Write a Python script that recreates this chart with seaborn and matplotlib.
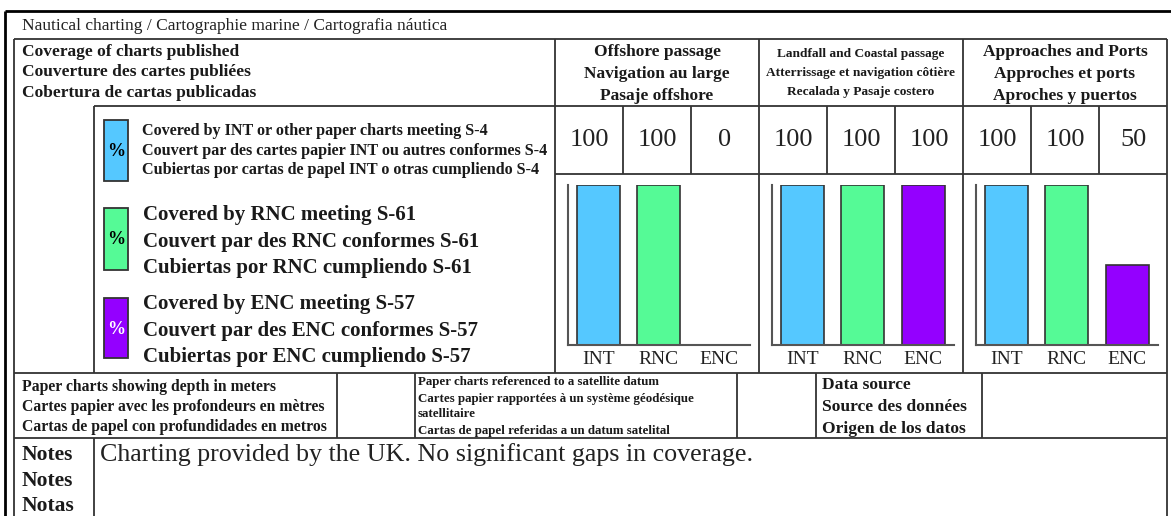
import pandas as pd
import matplotlib.pyplot as plt
import seaborn as sns
from matplotlib.patches import Rectangle

sns.set_style('white')
plt.rcParams['font.family'] = ['Liberation Serif', 'DejaVu Serif']

# data
chart_types = ['INT', 'RNC', 'ENC']
offshore = [100, 100, 0]
landfall = [100, 100, 100]
approaches = [100, 100, 50]
type_colors = ['#55C8FF', '#55FA96', '#9400FF']

title = 'Nautical charting / Cartographie marine / Cartografia náutica'
coverage_head = ['Coverage of charts published', 'Couverture des cartes publiées',
                 'Cobertura de cartas publicadas']
offshore_head = ['Offshore passage', 'Navigation au large', 'Pasaje offshore']
landfall_head = ['Landfall and Coastal passage', 'Atterrissage et navigation côtière',
                 'Recalada y Pasaje costero']
approach_head = ['Approaches and Ports', 'Approches et ports', 'Aproches y puertos']
legend_int = ['Covered by INT or other paper charts meeting S-4',
              'Couvert par des cartes papier INT ou autres conformes S-4',
              'Cubiertas por cartas de papel INT o otras cumpliendo S-4']
legend_rnc = ['Covered by RNC meeting S-61', 'Couvert par des RNC conformes S-61',
              'Cubiertas por RNC cumpliendo S-61']
legend_enc = ['Covered by ENC meeting S-57', 'Couvert par des ENC conformes S-57',
              'Cubiertas por ENC cumpliendo S-57']
depth_txt = ['Paper charts showing depth in meters', 'Cartes papier avec les profondeurs en mètres',
             'Cartas de papel con profundidades en metros']
datum_txt = ['Paper charts referenced to a satellite datum',
             'Cartes papier rapportées à un système géodésique', 'satellitaire',
             'Cartas de papel referidas a un datum satelital']
source_txt = ['Data source', 'Source des données', 'Origen de los datos']
notes_lbl = ['Notes', 'Notes', 'Notas']
notes_txt = 'Charting provided by the UK. No significant gaps in coverage.'

W, H = 1171, 516
fig = plt.figure(figsize=(W / 100, H / 100), dpi=100)
bg = fig.add_axes([0, 0, 1, 1])
bg.set_xlim(0, W)
bg.set_ylim(H, 0)
bg.axis('off')

lc = '#333333'
lw = 1.3

def hl(y, x0, x1, **kw):
    bg.plot([x0, x1], [y, y], color=kw.get('c', lc), lw=kw.get('lw', lw), solid_capstyle='butt')

def vl(x, y0, y1, **kw):
    bg.plot([x, x], [y0, y1], color=kw.get('c', lc), lw=kw.get('lw', lw), solid_capstyle='butt')

# outer frame
hl(11, 5, W, c='black', lw=2)
vl(5, 11, H, c='black', lw=2)

# table grid
L, R = 14, 1167
hl(39, L, R)
vl(L, 39, H)
vl(R, 39, H)
hl(106, 94, R)
hl(174, 555, R)
hl(373, L, R)
hl(438, L, R)
for x in [555, 759, 963]:
    vl(x, 39, 373)
col_w = (R - 555) / 9
for i in range(1, 9):
    if i % 3:
        vl(555 + i * col_w, 106, 174)
vl(94, 106, 373)
for x in [337, 415, 737, 816, 982]:
    vl(x, 373, 438)
vl(94, 438, H)

# texts
dark = '#1a1a1a'
bg.text(22, 26, title, fontsize=12.5, va='center', color='#222222')
for i, t in enumerate(coverage_head):
    bg.text(22, 52 + i * 20.5, t, fontsize=12.5, weight='bold', va='center', color=dark)

sec_left = [555, 759, 963]
for sl, head, fs, ys in [(555, offshore_head, 12.5, [52, 74, 96]),
                         (759, landfall_head, 9.6, [54, 73, 92]),
                         (963, approach_head, 12.5, [52, 74, 96])]:
    for t, y in zip(head, ys):
        bg.text(sl + 102, y, t, fontsize=fs, weight='bold', ha='center', va='center', color=dark)

all_vals = offshore + landfall + approaches
for i, v in enumerate(all_vals):
    bg.text(555 + (i + 0.5) * col_w, 140, str(v), fontsize=19, ha='center', va='center',
            color='#222222')

# legend swatches
for (y0, y1), c, tc in zip([(120, 181), (208, 270), (298, 358)], type_colors,
                           ['black', 'black', 'white']):
    bg.add_patch(Rectangle((104, y0), 24, y1 - y0, facecolor=c, edgecolor='#333333', lw=1.3))
    bg.text(116, (y0 + y1) / 2 + 1, '%', fontsize=13, weight='bold', ha='center', va='center',
            color=tc)
for t, y in zip(legend_int, [131, 151, 170]):
    bg.text(142, y, t, fontsize=11.6, weight='bold', va='center', color=dark)
for t, y in zip(legend_rnc, [215, 242, 268]):
    bg.text(143, y, t, fontsize=15, weight='bold', va='center', color=dark)
for t, y in zip(legend_enc, [304, 331, 357]):
    bg.text(143, y, t, fontsize=15, weight='bold', va='center', color=dark)

# bottom rows
for t, y in zip(depth_txt, [387, 407, 427]):
    bg.text(22, y, t, fontsize=11.3, weight='bold', va='center', color=dark)
for t, y in zip(datum_txt, [382, 399, 414, 431]):
    bg.text(418, y, t, fontsize=9.3, weight='bold', va='center', color=dark)
for t, y in zip(source_txt, [385, 407, 429]):
    bg.text(822, y, t, fontsize=12.6, weight='bold', va='center', color=dark)
for t, y in zip(notes_lbl, [455, 481, 506]):
    bg.text(22, y, t, fontsize=15.5, weight='bold', va='center', color=dark)
bg.text(100, 455, notes_txt, fontsize=18.7, va='center', color='#222222')

# bar panels
for sl, vals in zip(sec_left, [offshore, landfall, approaches]):
    ax = fig.add_axes([(sl + 13) / W, 1 - 345 / H, 181.5 / W, 160 / H])
    df = pd.DataFrame({'type': chart_types, 'pct': vals})
    sns.barplot(data=df, x='type', y='pct', hue='type', palette=type_colors, legend=False,
                width=0.71, edgecolor='#333333', linewidth=1.2, saturation=1, ax=ax)
    ax.set_xlim(-0.5, 2.5)
    ax.set_ylim(0, 100)
    ax.set_xlabel('')
    ax.set_ylabel('')
    ax.set_yticks([])
    ax.patch.set_alpha(0)
    for s in ['top', 'right']:
        ax.spines[s].set_visible(False)
    for s in ['left', 'bottom']:
        ax.spines[s].set_color('#555555')
        ax.spines[s].set_linewidth(1.5)
    ax.tick_params(axis='x', length=0, pad=4, labelsize=14, labelcolor='#222222')

fig.savefig('out.png', dpi=100)
